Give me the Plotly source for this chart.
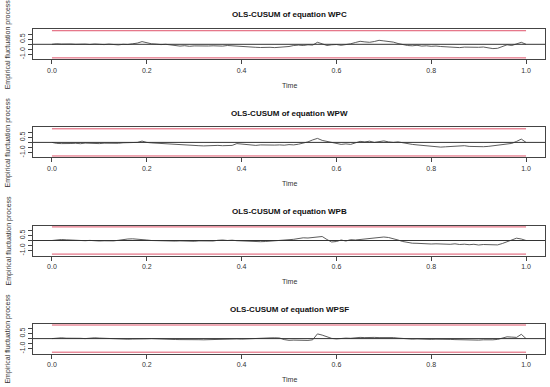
import numpy as np
import plotly.graph_objects as go

# ---- data ----
time = np.round(np.linspace(0, 1, 101), 2)
equations = ["WPC", "WPW", "WPB", "WPSF"]

wpc = [0, 0.05, 0.02, 0.06, 0.03, 0.0, 0.04, 0.02, -0.02, 0.03,
       0.0, -0.03, 0.02, -0.04, -0.06, 0.0, -0.02, 0.05, 0.12, 0.27,
       0.15, 0.05, 0.02, -0.03, 0.0, -0.08, -0.12, -0.18, -0.14, -0.2,
       -0.16, -0.18, -0.22, -0.17, -0.15, -0.2, -0.18, -0.12, -0.16, -0.2,
       -0.18, -0.22, -0.27, -0.3, -0.32, -0.28, -0.3, -0.33, -0.3, -0.27,
       -0.22, -0.12, -0.08, -0.12, -0.05, -0.08, 0.2, 0.05, -0.12, -0.05,
       -0.02, -0.1, -0.06, 0.05, 0.18, 0.3, 0.24, 0.2, 0.28, 0.4,
       0.34, 0.3, 0.22, 0.08, -0.05, -0.12, -0.15, -0.1, -0.18, -0.15,
       -0.2, -0.17, -0.22, -0.26, -0.24, -0.3, -0.33, -0.28, -0.3, -0.25,
       -0.3, -0.27, -0.35, -0.43, -0.4, -0.25, -0.05, -0.12, 0.05, 0.2,
       0.0]

wpw = [0, -0.1, -0.12, -0.08, -0.11, -0.09, -0.13, -0.07, -0.1, -0.06,
       -0.12, -0.08, -0.1, -0.05, -0.09, -0.04, -0.02, 0.05, 0.0, 0.13,
       0.0, -0.05, -0.08, -0.12, -0.15, -0.2, -0.22, -0.28, -0.3, -0.33,
       -0.3, -0.33, -0.35, -0.32, -0.33, -0.3, -0.33, -0.32, -0.3, -0.12,
       -0.18, -0.25, -0.27, -0.3, -0.25, -0.28, -0.3, -0.27, -0.25, -0.28,
       -0.22, -0.25, -0.18, -0.1, 0.05, 0.25, 0.4, 0.2, 0.1, 0.0,
       -0.1, -0.2, -0.15, -0.2, -0.05, 0.1, 0.05, 0.12, 0.0, 0.08,
       0.15, 0.05, 0.0, 0.05, -0.05, -0.1, -0.2, -0.25, -0.3, -0.33,
       -0.38, -0.42, -0.47, -0.44, -0.4, -0.35, -0.38, -0.33, -0.4, -0.43,
       -0.47, -0.43, -0.4, -0.35, -0.3, -0.25, -0.15, -0.1, 0.1, 0.33,
       0.0]

wpb = [0, 0.05, 0.1, 0.07, 0.03, 0.0, 0.02, -0.02, 0.01, -0.04,
       -0.05, -0.03, -0.06, -0.04, 0.02, 0.1, 0.15, 0.17, 0.13, 0.16,
       0.05, 0.0, -0.02, 0.02, -0.05, -0.03, -0.06, -0.04, -0.07, -0.05,
       -0.08, -0.04, -0.06, -0.02, -0.05, 0.02, 0.05, 0.0, 0.03, -0.02,
       -0.05, -0.08, -0.1, -0.07, -0.12, -0.1, -0.05, -0.02, 0.0, 0.05,
       0.08, 0.12, 0.2, 0.27, 0.25, 0.3, 0.35, 0.4, 0.1, -0.15,
       -0.1, 0.05, -0.05, 0.08, 0.05, 0.1, 0.15, 0.2, 0.3, 0.37,
       0.35, 0.3, 0.2, 0.05, -0.1, -0.2, -0.27, -0.28, -0.32, -0.3,
       -0.35, -0.33, -0.37, -0.35, -0.38, -0.33, -0.4, -0.37, -0.42, -0.38,
       -0.45, -0.4, -0.43, -0.47, -0.44, -0.3, -0.1, 0.1, 0.23, 0.15,
       0.0]

wpsf = [0, 0.05, 0.08, 0.04, 0.06, 0.02, 0.03, 0.0, 0.05, 0.08,
        0.05, 0.02, 0.0, -0.03, -0.05, -0.03, -0.06, -0.04, -0.05, -0.03,
        -0.02, 0.0, -0.03, -0.05, -0.07, -0.06, -0.09, -0.1, -0.12, -0.1,
        -0.13, -0.11, -0.12, -0.1, -0.12, -0.09, -0.1, -0.08, -0.06, -0.03,
        -0.05, -0.02, -0.04, -0.02, 0.0, 0.03, 0.07, 0.08, 0.06, -0.1,
        -0.17, -0.15, -0.17, -0.16, -0.18, -0.12, 0.47, 0.35, 0.15, 0.02,
        -0.03, 0.02, 0.05, 0.03, 0.08, 0.12, 0.1, 0.13, 0.12, 0.1,
        0.12, 0.08, 0.1, 0.05, 0.0, -0.03, -0.05, -0.03, -0.06, -0.05,
        -0.08, -0.06, -0.09, -0.1, -0.08, -0.1, -0.12, -0.1, -0.13, -0.12,
        -0.15, -0.12, -0.14, -0.12, -0.08, 0.05, 0.18, 0.15, 0.12, 0.43,
        0.0]

series = [wpc, wpw, wpb, wpsf]
boundary = 1.358
boundary_t = [0, 1]
x_ticks = [0.0, 0.2, 0.4, 0.6, 0.8, 1.0]
y_ticks = [-1.0, -0.5, 0.0, 0.5, 1.0]
y_ticktext = ["-1.0", "", "", "0.5", ""]

# ---- layout ----
W, H = 550, 387
FONT = "Arial, Liberation Sans, sans-serif"
box_left, box_right = 33, 545
zero_px = [44.3, 142.4, 240.5, 338.6]
half_box = 15.0

fig = go.Figure()
layout = dict(width=W, height=H, margin=dict(l=0, r=0, t=0, b=0),
              paper_bgcolor="white", plot_bgcolor="white", showlegend=False,
              font=dict(family=FONT, color="#222"))
annotations = []
shapes = []
xc = (box_left + box_right) / 2 / W

for i, (name, vals) in enumerate(zip(equations, series)):
    k = "" if i == 0 else str(i + 1)
    xa, ya = "x" + k, "y" + k
    z = zero_px[i]
    y0 = 1 - (z + half_box) / H
    y1 = 1 - (z - half_box) / H
    layout["xaxis" + k] = dict(domain=[box_left / W, box_right / W], anchor=ya,
                               range=[-0.04, 1.04], tickvals=x_ticks, tickformat=".1f",
                               ticks="outside", ticklen=4, tickcolor="#444",
                               showline=True, mirror=True, linecolor="#444", linewidth=1,
                               showgrid=False, zeroline=False,
                               tickfont=dict(size=7, family=FONT, color="#333"))
    layout["yaxis" + k] = dict(domain=[y0, y1], anchor=xa,
                               range=[-1.5, 1.5], tickvals=y_ticks, ticktext=y_ticktext,
                               ticks="outside", ticklen=4, tickcolor="#444", tickangle=-90,
                               showline=True, mirror=True, linecolor="#444", linewidth=1,
                               showgrid=False, zeroline=False,
                               tickfont=dict(size=7, family=FONT, color="#333"))
    # boundaries
    for s in (1, -1):
        fig.add_trace(go.Scatter(x=boundary_t, y=[s * boundary] * 2, mode="lines",
                                 line=dict(color="#DF536B", width=1),
                                 xaxis=xa, yaxis=ya, hoverinfo="skip"))
    fig.add_trace(go.Scatter(x=time, y=vals, mode="lines",
                             line=dict(color="#4a4a4a", width=0.9),
                             xaxis=xa, yaxis=ya))
    shapes.append(dict(type="line", xref=xa + " domain", yref=ya, x0=0, x1=1, y0=0, y1=0,
                       line=dict(color="#333", width=1)))
    annotations.append(dict(text="<b>OLS-CUSUM of equation %s</b>" % name, x=xc,
                            y=1 - (z - 29.3) / H, xref="paper", yref="paper",
                            showarrow=False, xanchor="center", yanchor="middle",
                            font=dict(size=8, family=FONT, color="#111")))
    annotations.append(dict(text="Time", x=xc, y=1 - (z + 40.7) / H,
                            xref="paper", yref="paper", showarrow=False,
                            xanchor="center", yanchor="middle",
                            font=dict(size=7, family=FONT, color="#333")))
    annotations.append(dict(text="Empirical fluctuation process", x=8 / W, y=1 - z / H,
                            xref="paper", yref="paper", showarrow=False, textangle=-90,
                            xanchor="center", yanchor="middle",
                            font=dict(size=7, family=FONT, color="#333")))

layout["annotations"] = annotations
layout["shapes"] = shapes
fig.update_layout(**layout)
fig.write_html("out.html", config={"displayModeBar": False},
               post_script="document.body.style.margin='0px';document.body.style.overflow='hidden';")
